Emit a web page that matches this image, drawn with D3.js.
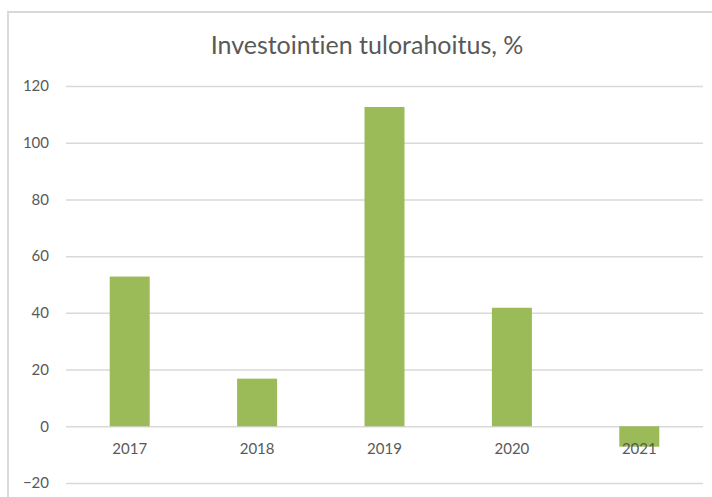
<!DOCTYPE html>
<html>
<head>
<meta charset="utf-8">
<script src="https://cdn.jsdelivr.net/npm/d3@7"></script>
<style>
  body { margin: 0; background: #fff; }
  svg { display: block; font-family: Lato, "Open Sans", sans-serif; font-variant-ligatures: none; }
</style>
</head>
<body>
<svg id="chart"></svg>
<script>
const width = 712;
const height = 497;

const title = 'Investointien tulorahoitus, %';
const years = ['2017', '2018', '2019', '2020', '2021'];
const values = [52.8, 16.8, 112.6, 41.8, -7.2];
const yTicks = [-20, 0, 20, 40, 60, 80, 100, 120];

const svg = d3.select('#chart')
    .attr('width', width)
    .attr('height', height);

// chart frame, cut off at right and bottom like the screenshot
svg.append('rect')
    .attr('x', 8)
    .attr('y', 12)
    .attr('width', 720)
    .attr('height', 520)
    .attr('fill', '#fff')
    .attr('stroke', '#d9d9d9')
    .attr('stroke-width', 2);

const x = d3.scaleBand().domain(years).range([66, 703]).paddingInner(0.686).paddingOuter(0.343);
const y = d3.scaleLinear().domain([-20, 120]).range([483, 86]);

svg.append('text')
    .attr('x', 367)
    .attr('y', 54)
    .attr('text-anchor', 'middle')
    .attr('font-size', 25)
    .attr('fill', '#595959')
    .text(title);

// gridlines
const yAxis = svg.append('g')
    .attr('transform', 'translate(66,0)')
    .call(d3.axisLeft(y).tickValues(yTicks).tickSize(-(703 - 66)).tickPadding(17));
yAxis.select('.domain').remove();
yAxis.selectAll('.tick line').attr('stroke', '#d9d9d9').attr('stroke-width', 1.5);
yAxis.selectAll('.tick text')
    .attr('fill', '#595959')
    .attr('font-size', 15)
    .attr('font-family', 'Lato, "Open Sans", sans-serif');

svg.append('g').selectAll('rect')
    .data(values)
    .enter()
    .append('rect')
    .attr('x', (d, i) => x(years[i]))
    .attr('width', x.bandwidth())
    .attr('y', d => y(Math.max(0, d)))
    .attr('height', d => Math.abs(y(d) - y(0)))
    .attr('fill', '#9bbb59');

const xAxis = svg.append('g')
    .attr('transform', `translate(0, ${y(0)})`)
    .call(d3.axisBottom(x).tickSize(0).tickPadding(17));
xAxis.select('.domain').remove();
xAxis.selectAll('.tick text')
    .attr('fill', '#595959')
    .attr('font-size', 15)
    .attr('font-family', 'Lato, "Open Sans", sans-serif');
</script>
</body>
</html>
